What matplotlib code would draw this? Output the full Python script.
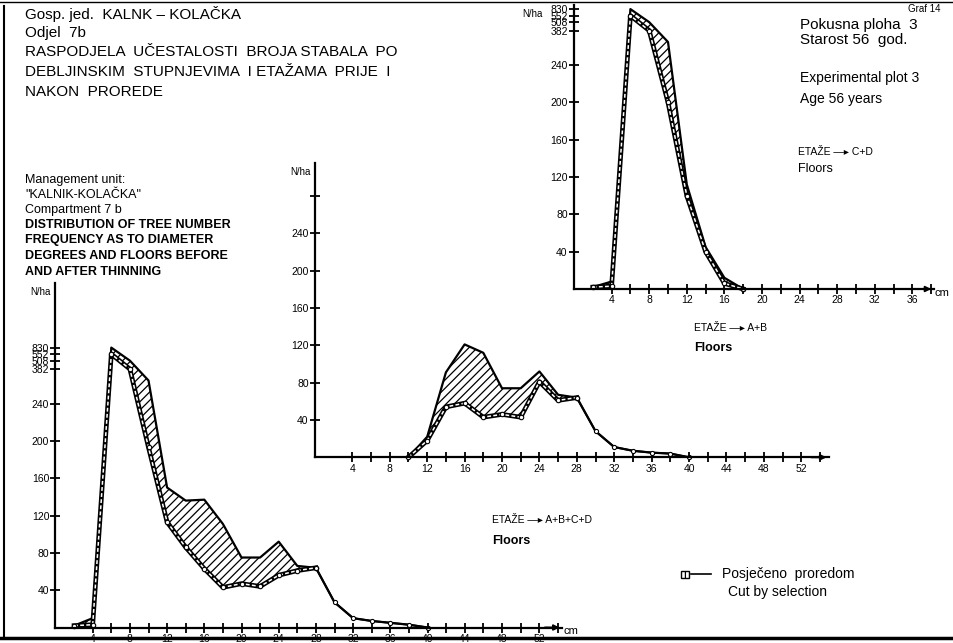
import numpy as np
import matplotlib
matplotlib.use('Agg')
import matplotlib.pyplot as plt
from matplotlib.patches import Rectangle
from matplotlib.lines import Line2D

plt.rcParams['font.family'] = ['Liberation Sans', 'DejaVu Sans']
plt.rcParams['hatch.linewidth'] = 0.9

W, H = 954, 643

# floors A+B+C+D (N/ha per 2 cm diameter class)
x_all = [2, 4, 6, 8, 10, 12, 14, 16, 18, 20, 22, 24, 26, 28, 30, 32, 34, 36, 38, 40]
before_all = [2, 10, 830, 508, 335, 150, 136, 137, 111, 75, 75, 92, 66, 64, 27, 10, 7, 5, 3, 0]
after_all = [2, 3, 552, 382, 193, 113, 86, 63, 43, 47, 44, 56, 61, 64, 27, 10, 7, 5, 3, 0]

# floors A+B
x_ab = [10, 12, 14, 16, 18, 20, 22, 24, 26, 28, 30, 32, 34, 36, 38, 40]
before_ab = [0, 22, 91, 121, 112, 74, 74, 92, 67, 64, 28, 11, 7, 5, 4, 0]
after_ab = [0, 18, 54, 58, 43, 46, 43, 81, 61, 64, 28, 11, 7, 5, 4, 0]

# floors C+D
x_cd = [2, 4, 6, 8, 10, 12, 14, 16, 18]
before_cd = [2, 8, 830, 508, 335, 112, 45, 12, 0]
after_cd = [2, 3, 552, 382, 200, 100, 40, 6, 0]

y_ticks = [40, 80, 120, 160, 200, 240]
break_ticks = [382, 508, 552, 830]
x_labels = [4, 8, 12, 16, 20, 24, 28, 32, 36, 40, 44, 48, 52]

# broken y axis: compressed above 240
brk_v = [0, 240, 382, 508, 552, 830, 1400]
brk_u = [0, 240, 277, 286, 293, 300, 380]


def fwd(v):
    return np.interp(v, brk_v, brk_u)


def inv(u):
    return np.interp(u, brk_u, brk_v)


fig = plt.figure(figsize=(W / 100, H / 100), dpi=100)


def make_axes(x0, y0, sx, sy, xmax, umax, broken, xlab):
    ax = fig.add_axes([x0 / W, 1 - y0 / H, xmax * sx / W, umax * sy / H])
    ax.patch.set_alpha(0)
    ax.set_xlim(0, xmax)
    if broken:
        ax.set_yscale('function', functions=(fwd, inv))
        ax.set_ylim(0, inv(umax))
        ax.set_yticks(y_ticks + break_ticks)
        ax.set_yticklabels([str(t) for t in y_ticks + break_ticks])
        for lab in ax.get_yticklabels()[len(y_ticks):]:
            lab.set_fontsize(4.8)
    else:
        ax.set_ylim(0, umax)
        ax.set_yticks(y_ticks + [280])
        ax.set_yticklabels([str(t) for t in y_ticks] + [''])
    ax.set_xticks(xlab)
    ax.set_xticks([t + 2 for t in xlab], minor=True)
    for s in ['top', 'right']:
        ax.spines[s].set_visible(False)
    for s in ['left', 'bottom']:
        ax.spines[s].set_linewidth(1.6)
    ax.tick_params(which='both', direction='inout', length=7, width=1.3,
                   labelsize=7.5, pad=1)
    # arrow at the end of the diameter axis
    ax.annotate('', xy=(1.0, 0), xytext=(0.96, 0), xycoords='axes fraction',
                arrowprops=dict(arrowstyle='-|>', color='black', lw=1.4,
                                mutation_scale=8))
    return ax


def after_line(ax, x, y):
    ax.plot(x, y, color='black', lw=3.4, clip_on=False)
    ax.plot(x, y, color='white', lw=1.1, ls=(0, (2.5, 1.5)), clip_on=False)
    ax.plot(x, y, ls='none', marker='o', ms=3.2, mfc='white', mec='black',
            mew=0.8, clip_on=False)


def draw_chart(ax, x, before, after, n_double):
    ax.fill_between(x, after, before, facecolor='none', edgecolor='black',
                    hatch='////', linewidth=0)
    ax.plot(x, before, color='black', lw=1.6, clip_on=False)
    after_line(ax, x[:n_double], after[:n_double])
    ax.plot(x[n_double - 1:], after[n_double - 1:], color='black', lw=1.4,
            marker='o', ms=3, mfc='white', mec='black', mew=0.8, clip_on=False)


# left chart: A+B+C+D
ax1 = make_axes(55.5, 627.5, 9.3, 0.933, 54.5, 369, True, x_labels)
draw_chart(ax1, x_all, before_all, after_all, 14)

# middle chart: A+B
ax2 = make_axes(315, 457.3, 9.35, 0.933, 55, 315, False, x_labels)
draw_chart(ax2, x_ab, before_ab, after_ab, 10)

# top-right chart: C+D
ax3 = make_axes(574, 289, 9.4, 0.933, 38.3, 304, True, x_labels[:9])
draw_chart(ax3, x_cd, before_cd, after_cd, len(x_cd))


def txt(x, y, s, size, **kw):
    fig.text(x / W, 1 - y / H, s, fontsize=size, va='center', ha='left', **kw)


# axis captions
txt(30, 292, 'N/ha', 7)
txt(290, 172, 'N/ha', 7)
txt(522, 14, 'N/ha', 7)
txt(563, 631, 'cm', 8)
txt(935, 293, 'cm', 8)

# titles
txt(25, 14, 'Gosp. jed.  KALNK – KOLAČKA', 11)
txt(25, 33, 'Odjel  7b', 11)
txt(25, 52, 'RASPODJELA  UČESTALOSTI  BROJA STABALA  PO', 11)
txt(25, 72, 'DEBLJINSKIM  STUPNJEVIMA  I ETAŽAMA  PRIJE  I', 11)
txt(25, 92, 'NAKON  PROREDE', 11)
txt(25, 180, 'Management unit:', 9)
txt(25, 195, '"KALNIK-KOLAČKA"', 9)
txt(25, 210, 'Compartment 7 b', 9)
txt(25, 225, 'DISTRIBUTION OF TREE NUMBER', 9, weight='bold')
txt(25, 240, 'FREQUENCY AS TO DIAMETER', 9, weight='bold')
txt(25, 256, 'DEGREES AND FLOORS BEFORE', 9, weight='bold')
txt(25, 272, 'AND AFTER THINNING', 9, weight='bold')

txt(800, 25, 'Pokusna ploha  3', 11)
txt(800, 40, 'Starost 56  god.', 11)
txt(800, 78, 'Experimental plot 3', 10)
txt(800, 99, 'Age 56 years', 10)
txt(798, 152, 'ETAŽE —▸ C+D', 7.5)
txt(798, 169, 'Floors', 9)

txt(694, 328, 'ETAŽE —▸ A+B', 7.5)
txt(694, 348, 'Floors', 9, weight='bold')

txt(492, 520, 'ETAŽE —▸ A+B+C+D', 7.5)
txt(492, 541, 'Floors', 9, weight='bold')

# legend
fig.add_artist(Rectangle((681 / W, 1 - 578 / H), 8 / W, 7 / H, facecolor='white',
                         edgecolor='black', hatch='||||', lw=1, transform=fig.transFigure))
fig.add_artist(Line2D([691 / W, 711 / W], [1 - 574 / H] * 2, color='black', lw=1.2,
                      transform=fig.transFigure))
txt(722, 574, 'Posječeno  proredom', 10)
txt(728, 592, 'Cut by selection', 10)

txt(908, 9, 'Graf 14', 7)

# scan frame
fig.add_artist(Line2D([4 / W, 4 / W], [1 - 6 / H, 1 - 637 / H], color='black', lw=1.5,
                      transform=fig.transFigure))
fig.add_artist(Line2D([0, 1], [1 - 638 / H] * 2, color='black', lw=2.5,
                      transform=fig.transFigure))
fig.add_artist(Line2D([0, 1], [1 - 2 / H] * 2, color='black', lw=1,
                      transform=fig.transFigure))

fig.savefig('out.png', dpi=100)
